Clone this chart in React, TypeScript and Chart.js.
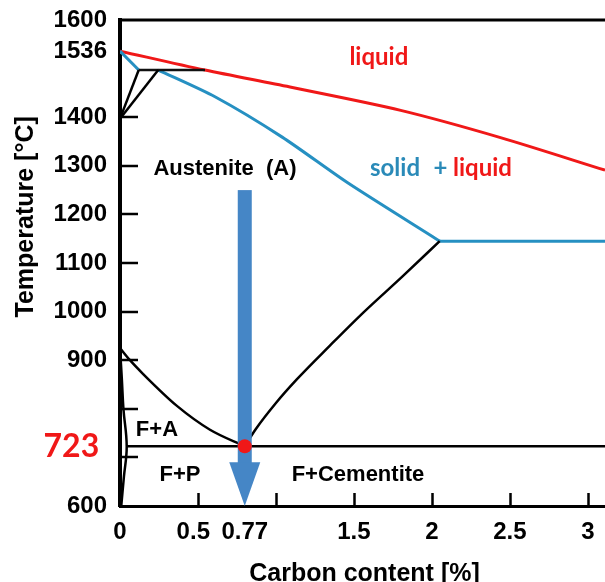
import { useEffect, useRef } from 'react';
import { Chart, registerables } from 'chart.js';

Chart.register(...registerables);

// ---- axes ----
const X_MIN = 0;
const X_MAX = 3.11;
const Y_MIN = 600;
const Y_MAX = 1600;
const xTickValues = [0, 0.47, 0.8, 1.5, 2, 2.5, 3];
const xTickLabels = ['0', '0.5', '0.77', '1.5', '2', '2.5', '3'];
const xMarkValues = [0.5, 1, 1.5, 2, 2.5, 3];
const yTickValues = [600, 723, 900, 1000, 1100, 1200, 1300, 1400, 1536, 1600];
const yMarkValues = [700, 800, 900, 1000, 1100, 1200, 1300, 1400];
const highlightTemp = 723;
const xTitle = 'Carbon content [%]';
const yTitle = 'Temperature [°C]';
const yTitleCenterT = 1195;

// ---- phase boundaries (carbon %, temperature °C) ----
const liquidusX = [0, 0.545, 1.09, 1.8, 2.44, 3.11];
const liquidusT = [1536, 1497, 1462, 1414, 1358, 1291];
const deltaSolidusX = [0, 0.12];
const deltaSolidusT = [1536, 1497];
const peritecticX = [0.12, 0.545];
const peritecticT = [1497, 1497];
const deltaGammaStartX = [0.12, 0];
const deltaGammaStartT = [1497, 1397];
const deltaGammaEndX = [0.245, 0];
const deltaGammaEndT = [1497, 1397];
const austeniteSolidusX = [0.245, 0.609, 1.04, 1.46, 2.05];
const austeniteSolidusT = [1497, 1442, 1359, 1265, 1145];
const eutecticX = [2.05, 3.11];
const eutecticT = [1145, 1145];
const a3X = [0, 0.064, 0.147, 0.365, 0.577, 0.8];
const a3T = [925, 900, 872, 806, 757, 723];
const acmX = [0.8, 0.87, 1.0, 1.135, 1.346, 1.56, 1.81, 2.05];
const acmT = [723, 758, 812, 861, 930, 998, 1072, 1145];
const ferriteSolvusX = [0, 0.012, 0.022, 0.043, 0.025, 0.008];
const ferriteSolvusT = [925, 860, 800, 723, 660, 600];
const eutectoidX = [0.043, 3.11];
const eutectoidT = [723, 723];
const eutectoidPointX = [0.8];
const eutectoidPointT = [723];
const arrowX = [0.8, 0.8, 0.8]; // top, neck, tip
const arrowT = [1250, 690, 600];

// ---- region labels ----
const regionText = ['liquid', 'Austenite  (A)', 'F+A', 'F+P', 'F+Cementite'];
const regionX = [1.66, 0.673, 0.237, 0.385, 1.526];
const regionT = [1524, 1293, 756, 664, 664];
const regionKind = ['red', 'black', 'black', 'black', 'black'];
const mixText = ['solid', '+', 'liquid'];
const mixX = [1.603, 2.01, 2.135];
const mixT = [1295, 1295, 1295];
const mixKind = ['blue', 'blue', 'red'];

const RED = '#f01818';
const BLUE_LINE = '#2690c2';
const BLUE_TEXT = '#2a8ab8';
const ARROW = '#4586c6';
const SANS = "'Liberation Sans', Arial, sans-serif";
const HUMANIST = "Lato, 'Open Sans', sans-serif";

const pts = (xs: number[], ts: number[]) => xs.map((x, i) => ({ x, y: ts[i] }));

const line = (xs: number[], ts: number[], color: string, width: number, extra: any = {}) => ({
  data: pts(xs, ts),
  showLine: true,
  borderColor: color,
  borderWidth: width,
  pointRadius: 0,
  pointHoverRadius: 0,
  fill: false,
  ...extra,
});

const overlay = {
  id: 'overlay',
  beforeDatasetsDraw(chart: any) {
    const { ctx, chartArea } = chart;
    const xs = chart.scales.x;
    const ys = chart.scales.y;
    ctx.save();
    ctx.strokeStyle = '#000';
    ctx.lineWidth = 3;
    ctx.beginPath();
    ctx.moveTo(chartArea.left - 2, chartArea.top);
    ctx.lineTo(chartArea.right, chartArea.top);
    ctx.stroke();
    ctx.lineWidth = 2.5;
    ctx.beginPath();
    xMarkValues.forEach((v) => {
      const px = Math.round(xs.getPixelForValue(v)) + 0.5;
      ctx.moveTo(px, chartArea.bottom);
      ctx.lineTo(px, chartArea.bottom - 13);
    });
    yMarkValues.forEach((v) => {
      const py = Math.round(ys.getPixelForValue(v));
      ctx.moveTo(chartArea.left, py);
      ctx.lineTo(chartArea.left + 18, py);
    });
    ctx.stroke();
    ctx.restore();
  },
  beforeDatasetDraw(chart: any, args: any) {
    if (args.index !== 0) return;
    const { ctx } = chart;
    const xs = chart.scales.x;
    const ys = chart.scales.y;
    const cx = xs.getPixelForValue(arrowX[0]);
    const top = ys.getPixelForValue(arrowT[0]);
    const neck = ys.getPixelForValue(arrowT[1]);
    const tip = ys.getPixelForValue(arrowT[2]);
    ctx.save();
    ctx.fillStyle = ARROW;
    ctx.fillRect(cx - 7, top, 14, neck - top + 1);
    ctx.beginPath();
    ctx.moveTo(cx - 15.5, neck);
    ctx.lineTo(cx + 15.5, neck);
    ctx.lineTo(cx, tip);
    ctx.closePath();
    ctx.fill();
    ctx.restore();
  },
  afterDraw(chart: any) {
    const { ctx, chartArea } = chart;
    const xs = chart.scales.x;
    const ys = chart.scales.y;
    const colorOf = (k: string) => (k === 'red' ? RED : k === 'blue' ? BLUE_TEXT : '#000');
    ctx.save();
    ctx.textBaseline = 'middle';
    regionText.forEach((t, i) => {
      const humanist = regionKind[i] !== 'black';
      ctx.font = humanist ? `bold 24px ${HUMANIST}` : `bold 22px ${SANS}`;
      ctx.fillStyle = colorOf(regionKind[i]);
      ctx.textAlign = 'center';
      ctx.fillText(t, xs.getPixelForValue(regionX[i]), ys.getPixelForValue(regionT[i]));
    });
    mixText.forEach((t, i) => {
      ctx.font = `bold 24px ${HUMANIST}`;
      ctx.fillStyle = colorOf(mixKind[i]);
      ctx.textAlign = 'left';
      ctx.fillText(t, xs.getPixelForValue(mixX[i]), ys.getPixelForValue(mixT[i]));
    });
    // axis titles
    ctx.fillStyle = '#000';
    ctx.font = `bold 25px ${SANS}`;
    ctx.textAlign = 'center';
    ctx.textBaseline = 'alphabetic';
    ctx.fillText(xTitle, (chartArea.left + chartArea.right) / 2 + 2, 581);
    ctx.translate(33, ys.getPixelForValue(yTitleCenterT));
    ctx.rotate(-Math.PI / 2);
    ctx.fillText(yTitle, 0, 0);
    ctx.restore();
  },
};

export default function App() {
  const ref = useRef<HTMLCanvasElement | null>(null);
  useEffect(() => {
    document.body.style.margin = '0';
    const canvas = ref.current;
    if (!canvas) return;
    const chart = new Chart(canvas, {
      type: 'scatter',
      data: {
        datasets: [
          {
            data: pts(eutectoidPointX, eutectoidPointT),
            pointRadius: 7,
            pointHoverRadius: 7,
            pointBackgroundColor: RED,
            pointBorderWidth: 0,
            showLine: false,
          } as any,
          line(eutectoidX, eutectoidT, '#000', 2.5),
          line(ferriteSolvusX, ferriteSolvusT, '#000', 2.5, { tension: 0.4 }),
          line(a3X, a3T, '#000', 2.5, { cubicInterpolationMode: 'monotone' }),
          line(acmX, acmT, '#000', 2.5, { cubicInterpolationMode: 'monotone' }),
          line(deltaGammaStartX, deltaGammaStartT, '#000', 2.5),
          line(deltaGammaEndX, deltaGammaEndT, '#000', 2.5),
          line(peritecticX, peritecticT, '#111', 2.5),
          line(eutecticX, eutecticT, BLUE_LINE, 3),
          line(austeniteSolidusX, austeniteSolidusT, BLUE_LINE, 3, { tension: 0.25 }),
          line(deltaSolidusX, deltaSolidusT, BLUE_LINE, 3),
          line(liquidusX, liquidusT, RED, 3, { tension: 0.3 }),
        ],
      },
      options: {
        animation: false,
        responsive: false,
        events: [],
        layout: { autoPadding: false, padding: { top: 20, right: 0, left: 0, bottom: 0 } },
        plugins: {
          legend: { display: false },
          tooltip: { enabled: false },
        },
        scales: {
          x: {
            type: 'linear',
            min: X_MIN,
            max: X_MAX,
            grid: { display: false, drawTicks: false },
            border: { display: true, color: '#000', width: 3 },
            afterBuildTicks: (scale: any) => {
              scale.ticks = xTickValues.map((v) => ({ value: v }));
            },
            afterFit: (scale: any) => {
              scale.height = 76;
              scale.paddingLeft = 0;
              scale.paddingRight = 0;
            },
            ticks: {
              autoSkip: false,
              maxRotation: 0,
              padding: 12,
              color: '#000',
              font: { family: SANS, size: 24, weight: 'bold' },
              callback: (_v: any, i: number) => xTickLabels[i],
            },
          },
          y: {
            type: 'linear',
            min: Y_MIN,
            max: Y_MAX,
            grid: { display: false, drawTicks: false },
            border: { display: true, color: '#000', width: 4 },
            afterBuildTicks: (scale: any) => {
              scale.ticks = yTickValues.map((v) => ({ value: v }));
            },
            afterFit: (scale: any) => {
              scale.width = 120;
              scale.paddingTop = 0;
              scale.paddingBottom = 0;
            },
            ticks: {
              autoSkip: false,
              padding: 13,
              color: (c: any) => (c.tick && c.tick.value === highlightTemp ? RED : '#000'),
              font: (c: any) =>
                c.tick && c.tick.value === highlightTemp
                  ? { family: HUMANIST, size: 32, weight: 'bold' }
                  : { family: SANS, size: 24, weight: 'bold' },
              callback: (v: any) => (v === highlightTemp ? `${v} ` : `${v}`),
            },
          },
        },
      } as any,
      plugins: [overlay],
    });
    return () => chart.destroy();
  }, []);
  return (
    <div style={{ width: 605, height: 582 }}>
      <canvas ref={ref} width={605} height={582} />
    </div>
  );
}
